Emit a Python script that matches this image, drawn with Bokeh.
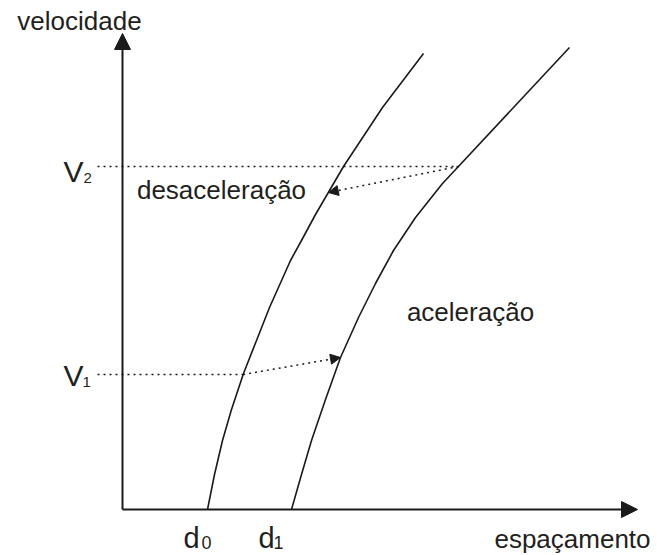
import numpy as np
from bokeh.plotting import figure
from bokeh.models import Range1d, Arrow, NormalHead
from bokeh.core.properties import value
from bokeh.embed import file_html
from bokeh.resources import INLINE

# ---- data (arbitrary units: spacing on x, velocity on y) ----
curve_d0_x = [0.85, 0.92, 1.00, 1.09, 1.21, 1.47, 1.68, 1.79, 1.93, 2.07, 2.21, 2.60, 3.01]
curve_d0_v = [0.00, 0.35, 0.69, 1.00, 1.36, 2.02, 2.49, 2.69, 2.95, 3.19, 3.43, 4.02, 4.56]
curve_d1_x = [1.69, 1.79, 1.89, 2.03, 2.18, 2.36, 2.53, 2.71, 2.93, 3.20, 3.35, 3.91, 4.47]
curve_d1_v = [0.00, 0.35, 0.69, 1.10, 1.52, 1.92, 2.26, 2.59, 2.92, 3.26, 3.42, 4.02, 4.62]
V1, V2 = 1.35, 3.43
d0, d1 = 0.85, 1.69
v_after_decel = 3.17
v_after_accel = 1.52
x_axis_end = 5.15
y_axis_end = 4.76
dotted_start = -0.25

INK = "#1a1a1a"
TXT = "#231f20"
FONT = value("Liberation Sans")

p = figure(width=657, height=555,
           x_range=Range1d(-1.22, 5.35), y_range=Range1d(-0.46, 5.09),
           output_backend="svg", toolbar_location=None,
           x_axis_location=None, y_axis_location=None,
           min_border=0, outline_line_color=None,
           background_fill_color="white", border_fill_color="white")
p.grid.visible = False

# axes with arrow heads
for xs, ys, xe, ye in [(0, 0, 0, y_axis_end), (0, 0, x_axis_end, 0)]:
    p.add_layout(Arrow(x_start=xs, y_start=ys, x_end=xe, y_end=ye,
                       line_width=2, line_color=INK,
                       end=NormalHead(size=16, fill_color=INK, line_color=INK, line_width=1)))

# curves
p.line(curve_d0_x, curve_d0_v, line_width=1.6, line_color=INK, line_join="round")
p.line(curve_d1_x, curve_d1_v, line_width=1.6, line_color=INK, line_join="round")

def x_on(curve_x, curve_v, v):
    return float(np.interp(v, curve_v, curve_x))

# dotted guides
x_v2_right = x_on(curve_d1_x, curve_d1_v, V2)
x_v1_left = x_on(curve_d0_x, curve_d0_v, V1)
p.segment(x0=[dotted_start, dotted_start], y0=[V2, V1],
          x1=[x_v2_right, x_v1_left], y1=[V2, V1],
          line_dash="2 4", line_width=1.5, line_color=INK)

# dotted arrows
arrows = [
    (x_v2_right, V2, x_on(curve_d0_x, curve_d0_v, v_after_decel), v_after_decel),
    (x_v1_left, V1, x_on(curve_d1_x, curve_d1_v, v_after_accel), v_after_accel),
]
for xs, ys, xe, ye in arrows:
    p.add_layout(Arrow(x_start=xs, y_start=ys, x_end=xe, y_end=ye,
                       line_width=1.5, line_color=INK, line_dash="2 4",
                       end=NormalHead(size=10, fill_color=INK, line_color=INK, line_width=1)))

def label(x, y, s, size, align="left"):
    # baseline correction for the svg text renderer (proportional to font size)
    p.text(x=[x], y=[y + 0.004 * size], text=[s], text_font=FONT,
           text_font_size=value(f"{size}px"), text_color=TXT,
           text_align=align, text_baseline="alphabetic")

label(-0.43, 4.78, "velocidade", 26, align="center")
label(0.99, 3.09, "desaceleração", 26, align="center")
label(3.48, 1.87, "aceleração", 26, align="center")
label(4.50, -0.40, "espaçamento", 26, align="center")

# V labels
label(-0.59, V2 - 0.17, "V", 30)
label(-0.39, V2 - 0.17, "2", 15)
label(-0.59, V1 - 0.13, "V", 30)
label(-0.40, V1 - 0.13, "1", 15)

# d labels
label(d0 - 0.24, -0.40, "d", 29)
label(d0 - 0.06, -0.40, "0", 18)
label(d1 - 0.33, -0.40, "d", 29)
label(d1 - 0.18, -0.40, "1", 18)

open("out.html", "w").write(file_html(p, INLINE))
